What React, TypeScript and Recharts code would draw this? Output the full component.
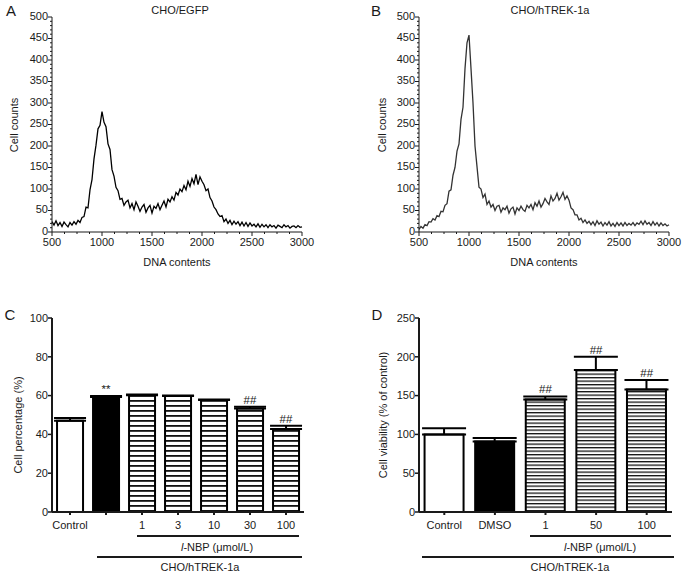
import React from "react";
import {
  LineChart,
  Line,
  XAxis,
  YAxis,
  ComposedChart,
  Bar,
  Cell,
  ErrorBar,
  LabelList,
} from "recharts";

// DNA histograms, one count per 20-unit channel from 500 to 3000
const dnaA = [
  24, 16, 26, 15, 22, 13, 23, 17, 12, 22, 16, 24, 18, 27, 22,
  34, 36, 58, 56, 98, 122, 170, 202, 240, 248,
  280, 255, 245, 205, 192, 145, 130, 104, 96, 76,
  78, 62, 70, 74, 56, 66, 52, 70, 60, 48,
  58, 64, 46, 56, 62, 44, 60, 55, 66, 52,
  62, 72, 58, 76, 70, 82, 74, 92, 86, 100,
  94, 108, 98, 118, 106, 124, 112, 134, 110, 128,
  118, 110, 96, 100, 80, 72, 58, 52, 42, 36,
  38, 24, 30, 20, 27, 17, 25, 18, 24, 15,
  23, 14, 22, 13, 21, 14, 18, 12, 19, 11,
  18, 12, 17, 10, 17, 12, 15, 9, 16, 13,
  10, 17, 12, 15, 9, 13, 14, 10, 15, 11, 12,
];
const dnaB = [
  6, 13, 9, 17, 15, 24, 23, 31, 28, 38, 36, 48, 47, 62, 66,
  95, 98, 132, 150, 188, 205, 262, 290, 380, 440,
  458, 380, 300, 200, 152, 104, 100, 80, 88, 64,
  72, 58, 64, 50, 60, 62, 46, 56, 52, 60,
  44, 54, 58, 42, 56, 50, 60, 52, 48, 62,
  56, 64, 52, 68, 60, 72, 58, 66, 78, 70,
  64, 84, 72, 78, 90, 74, 82, 92, 76, 84,
  74, 56, 52, 40, 40, 28, 32, 22, 28, 20,
  25, 17, 24, 15, 26, 18, 23, 14, 22, 16,
  24, 14, 20, 13, 22, 15, 21, 14, 22, 15,
  20, 16, 22, 15, 21, 18, 25, 17, 26, 18,
  22, 15, 24, 16, 22, 14, 21, 15, 19, 14, 17,
];
const binStart = 500;
const binStep = 20;
const histXLabels = [500, 1000, 1500, 2000, 2500, 3000];
const histYLabels = [0, 50, 100, 150, 200, 250, 300, 350, 400, 450, 500];

// panel C: cell percentage
const cCats = ["Control", "", "1", "3", "10", "30", "100"];
const cVals = [47, 59.3, 60.2, 59.8, 57.7, 53.4, 42.8];
const cErrs = [1.4, 0.5, 0.4, 0.3, 0.3, 0.9, 1.6];
const cSig = ["", "**", "", "", "", "##", "##"];
const cTicks = [0, 20, 40, 60, 80, 100];

// panel D: cell viability
const dCats = ["Control", "DMSO", "1", "50", "100"];
const dVals = [100, 91, 145, 183, 158];
const dErrs = [8, 4.5, 4, 17, 12];
const dSig = ["", "", "##", "##", "##"];
const dTicks = [0, 50, 100, 150, 200, 250];

const toHist = (counts: number[]) =>
  counts.map((y, i) => ({ x: binStart + i * binStep, y }));

const toBars = (cats: string[], vals: number[], errs: number[], sig: string[]) =>
  cats.map((cat, i) => ({
    cat,
    val: vals[i],
    err: [0, errs[i]],
    top: vals[i] + errs[i],
    sig: sig[i],
  }));

const histA = toHist(dnaA);
const histB = toHist(dnaB);
const rowsC = toBars(cCats, cVals, cErrs, cSig);
const rowsD = toBars(dCats, dVals, dErrs, dSig);

const histXTicks: number[] = [];
for (let v = 500; v <= 3000; v += 125) histXTicks.push(v);
const histYTicks: number[] = [];
for (let v = 0; v <= 500; v += 10) histYTicks.push(v);

const FONT = '"Liberation Sans", Arial, sans-serif';
const INK = "#1a1a1a";

const HistXTick = ({ x, y, payload }: any) => {
  const major = histXLabels.includes(payload.value);
  return (
    <g>
      <line x1={x} x2={x} y1={y} y2={y + (major ? 4 : 2)} stroke={INK} />
      {major && (
        <text x={x} y={y + 6} dy="0.71em" textAnchor="middle" fontSize={11} fill={INK}>
          {payload.value}
        </text>
      )}
    </g>
  );
};

const HistYTick = ({ x, y, payload }: any) => {
  const major = histYLabels.includes(payload.value);
  return (
    <g>
      <line x1={x} x2={x - (major ? 4 : 2)} y1={y} y2={y} stroke={INK} />
      {major && (
        <text x={x - 4} y={y - 1} dy="0.35em" textAnchor="end" fontSize={11} fill={INK}>
          {payload.value}
        </text>
      )}
    </g>
  );
};

const BarXTick = ({ x, y, payload }: any) => (
  <g>
    <line x1={x} x2={x} y1={y} y2={y + 3} stroke={INK} strokeWidth={2} />
    <text x={x} y={y + 9} dy="0.71em" textAnchor="middle" fontSize={11} fill={INK}>
      {payload.value}
    </text>
  </g>
);

const BarYTick = ({ x, y, payload }: any) => (
  <g>
    <line x1={x} x2={x - 4} y1={y} y2={y} stroke={INK} strokeWidth={1.5} />
    <text x={x - 4} y={y} dy="0.35em" textAnchor="end" fontSize={11} fill={INK}>
      {payload.value}
    </text>
  </g>
);

const Txt = ({ x, y, size = 11, rotate = false, children }: any) => (
  <div
    style={{
      position: "absolute",
      left: x,
      top: y,
      transform: `translate(-50%, -50%)${rotate ? " rotate(-90deg)" : ""}`,
      whiteSpace: "nowrap",
      fontSize: size,
      color: INK,
      lineHeight: 1,
    }}
  >
    {children}
  </div>
);

const Rule = ({ x1, x2, y }: any) => (
  <div
    style={{
      position: "absolute",
      left: x1,
      top: y,
      width: x2 - x1,
      height: 1.5,
      background: INK,
    }}
  />
);

function Histogram({ data, stroke, yAxisW, right }: any) {
  return (
    <LineChart
      width={yAxisW + 250 + right}
      height={290}
      data={data}
      margin={{ top: 17, right, bottom: 0, left: 0 }}
    >
      <XAxis
        dataKey="x"
        type="number"
        domain={[500, 3000]}
        ticks={histXTicks}
        interval={0}
        height={58}
        tickSize={0}
        tickMargin={0}
        tickLine={false}
        tick={<HistXTick />}
        axisLine={{ stroke: INK }}
      />
      <XAxis
        xAxisId="frame"
        orientation="top"
        type="number"
        domain={[500, 3000]}
        height={0}
        tick={false}
        tickLine={false}
        axisLine={{ stroke: "#555" }}
      />
      <YAxis
        domain={[0, 500]}
        ticks={histYTicks}
        interval={0}
        width={yAxisW}
        tickSize={0}
        tickMargin={0}
        tickLine={false}
        tick={<HistYTick />}
        axisLine={{ stroke: INK }}
      />
      <YAxis
        yAxisId="frame"
        orientation="right"
        domain={[0, 500]}
        width={0}
        tick={false}
        tickLine={false}
        axisLine={{ stroke: "#555" }}
      />
      <Line
        type="linear"
        dataKey="y"
        stroke={stroke}
        strokeWidth={1.3}
        dot={false}
        activeDot={false}
        isAnimationActive={false}
      />
    </LineChart>
  );
}

function BarPanel({ rows, yAxisW, width, right, domain, ticks, gap, patternId, period, line, capW }: any) {
  return (
    <ComposedChart
      width={width}
      height={273}
      data={rows}
      margin={{ top: 18, right, bottom: 0, left: 0 }}
      barCategoryGap={gap}
    >
      <defs>
        <pattern id={patternId} width={8} height={period} patternUnits="userSpaceOnUse">
          <rect width={8} height={period} fill="#fff" />
          <rect width={8} height={line} fill="#111" />
        </pattern>
      </defs>
      <XAxis
        dataKey="cat"
        height={61}
        interval={0}
        tickSize={0}
        tickMargin={0}
        tickLine={false}
        tick={<BarXTick />}
        axisLine={{ stroke: INK, strokeWidth: 2 }}
      />
      <YAxis
        domain={domain}
        ticks={ticks}
        interval={0}
        width={yAxisW}
        tickSize={0}
        tickMargin={0}
        tickLine={false}
        tick={<BarYTick />}
        axisLine={{ stroke: INK, strokeWidth: 2 }}
      />
      <Bar dataKey="val" stroke="#000" strokeWidth={2} isAnimationActive={false}>
        {rows.map((r: any, i: number) => (
          <Cell key={i} fill={i === 0 ? "#fff" : i === 1 ? "#000" : `url(#${patternId})`} />
        ))}
        <ErrorBar dataKey="err" width={capW} strokeWidth={2} stroke="#000" direction="y" />
      </Bar>
      <Line
        dataKey="top"
        stroke="none"
        dot={false}
        activeDot={false}
        legendType="none"
        isAnimationActive={false}
      >
        <LabelList dataKey="sig" position="top" offset={3} fontSize={11.5} fill={INK} />
      </Line>
    </ComposedChart>
  );
}

export default function App() {
  return (
    <div
      style={{
        position: "absolute",
        left: 0,
        top: 0,
        width: 685,
        height: 573,
        background: "#fff",
        fontFamily: FONT,
        overflow: "hidden",
      }}
    >
      {/* A */}
      <div style={{ position: "absolute", left: 0, top: 0 }}>
        <Histogram data={histA} stroke="#000" yAxisW={52} right={38} />
      </div>
      <Txt x={11} y={10} size={15}>A</Txt>
      <Txt x={180} y={10}>CHO/EGFP</Txt>
      <Txt x={14} y={125} rotate>Cell counts</Txt>
      <Txt x={177} y={262}>DNA contents</Txt>

      {/* B */}
      <div style={{ position: "absolute", left: 340, top: 0 }}>
        <Histogram data={histB} stroke="#333" yAxisW={79} right={14} />
      </div>
      <Txt x={376} y={10} size={15}>B</Txt>
      <Txt x={550} y={10}>CHO/hTREK-1a</Txt>
      <Txt x={382} y={125} rotate>Cell counts</Txt>
      <Txt x={544} y={262}>DNA contents</Txt>

      {/* C */}
      <div style={{ position: "absolute", left: 0, top: 300 }}>
        <BarPanel
          rows={rowsC}
          yAxisW={52}
          width={340}
          right={36}
          domain={[0, 100]}
          ticks={cTicks}
          gap="14%"
          patternId="stripeC"
          period={5}
          line={1.8}
          capW={16}
        />
      </div>
      <Txt x={10} y={314} size={15}>C</Txt>
      <Txt x={18} y={425} rotate>Cell percentage (%)</Txt>
      <Rule x1={137} x2={299} y={535} />
      <Txt x={217} y={547}><i>l</i>-NBP (μmol/L)</Txt>
      <Rule x1={97} x2={302} y={556} />
      <Txt x={200} y={567}>CHO/hTREK-1a</Txt>

      {/* D */}
      <div style={{ position: "absolute", left: 340, top: 300 }}>
        <BarPanel
          rows={rowsD}
          yAxisW={79}
          width={345}
          right={13}
          domain={[0, 250]}
          ticks={dTicks}
          gap="11%"
          patternId="stripeD"
          period={3.5}
          line={1.3}
          capW={22}
        />
      </div>
      <Txt x={377} y={314} size={15}>D</Txt>
      <Txt x={383} y={415} rotate>Cell viability (% of control)</Txt>
      <Rule x1={530} x2={671} y={535} />
      <Txt x={600} y={547}><i>l</i>-NBP (μmol/L)</Txt>
      <Rule x1={422} x2={674} y={556} />
      <Txt x={570} y={567}>CHO/hTREK-1a</Txt>
    </div>
  );
}
